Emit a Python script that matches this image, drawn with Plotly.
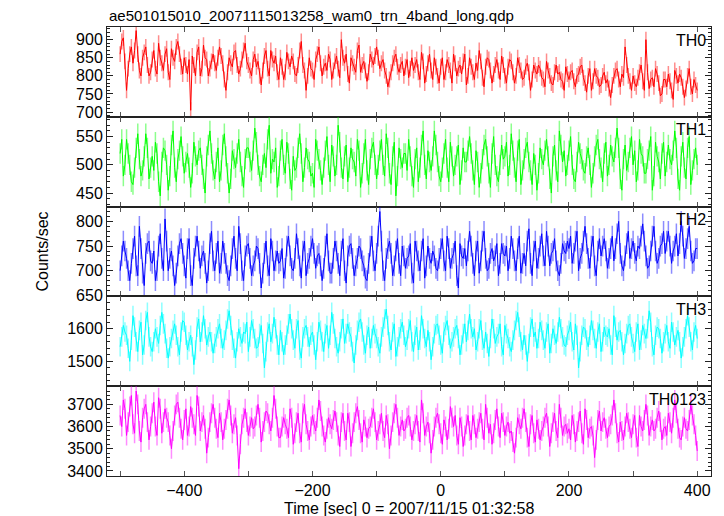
import plotly.graph_objects as go
from plotly.subplots import make_subplots

TITLE = "ae501015010_20071115013258_wam0_trn_4band_long.qdp"
X_LABEL = "Time [sec] 0 = 2007/11/15 01:32:58"
Y_LABEL = "Counts/sec"
T_START, T_BIN = -500, 2.5

TH0 = [860, 895, 905, 840, 760, 820, 860, 880, 835, 870, 925, 860, 815, 800, 850, 865, 880, 830, 800, 810,
       845, 870, 820, 805, 890, 850, 835, 815, 860, 875, 810, 790, 875, 850, 840, 880, 895, 860, 825, 805,
       850, 830, 805, 845, 705, 855, 830, 800, 865, 880, 800, 820, 885, 850, 845, 800, 820, 840, 860, 835,
       815, 850, 880, 855, 835, 790, 760, 810, 850, 835, 825, 865, 870, 830, 805, 820, 845, 870, 890, 840,
       830, 815, 800, 845, 860, 825, 840, 800, 775, 815, 855, 870, 820, 800, 870, 845, 835, 855, 810, 790,
       850, 825, 790, 810, 865, 840, 825, 855, 840, 805, 800, 830, 870, 895, 830, 815, 760, 800, 850, 820,
       815, 790, 845, 860, 880, 835, 800, 825, 835, 815, 860, 845, 790, 815, 840, 855, 820, 795, 900, 850,
       835, 860, 805, 780, 850, 835, 825, 810, 870, 885, 810, 830, 840, 815, 785, 810, 860, 845, 830, 855,
       880, 850, 820, 835, 845, 815, 800, 770, 790, 810, 835, 850, 860, 825, 810, 830, 840, 800, 825, 845,
       795, 820, 850, 815, 830, 845, 810, 790, 865, 840, 780, 805, 835, 860, 815, 790, 850, 825, 800, 780,
       825, 850, 790, 810, 845, 830, 815, 780, 860, 835, 800, 820, 830, 805, 840, 860, 775, 800, 850, 825,
       810, 790, 835, 815, 870, 840, 795, 770, 825, 850, 845, 815, 780, 805, 830, 845, 815, 790, 855, 830,
       800, 780, 825, 845, 840, 810, 780, 800, 850, 830, 815, 790, 795, 825, 835, 810, 760, 790, 830, 815,
       805, 830, 820, 795, 790, 770, 840, 815, 800, 780, 775, 810, 830, 805, 810, 790, 785, 760, 825, 805,
       790, 810, 815, 785, 770, 800, 805, 825, 830, 795, 780, 755, 800, 820, 760, 785, 820, 800, 795, 770,
       775, 800, 810, 780, 790, 765, 740, 775, 800, 815, 820, 790, 770, 805, 795, 880, 830, 800, 785, 760,
       800, 780, 770, 795, 810, 830, 785, 760, 900, 810, 765, 790, 795, 770, 820, 805, 780, 745, 750, 790,
       790, 770, 805, 785, 760, 735, 815, 800, 780, 805, 795, 770, 740, 765, 800, 820, 770, 750, 790, 775,
       760]

TH1 = [520, 545, 480, 500, 545, 520, 500, 470, 465, 495, 530, 555, 510, 480, 490, 515, 555, 530, 475, 495,
       515, 490, 540, 520, 470, 445, 505, 530, 525, 500, 455, 480, 535, 560, 495, 470, 510, 525, 550, 515,
       485, 505, 520, 495, 460, 485, 540, 515, 500, 525, 530, 500, 475, 450, 515, 535, 560, 520, 490, 475,
       505, 530, 470, 490, 535, 555, 515, 485, 450, 475, 525, 510, 495, 520, 545, 505, 480, 460, 510, 530,
       530, 505, 490, 525, 565, 540, 500, 480, 470, 500, 520, 495, 545, 570, 485, 510, 505, 530, 460, 480,
       525, 545, 500, 485, 540, 520, 475, 455, 515, 490, 495, 530, 555, 520, 470, 495, 530, 510, 505, 480,
       485, 460, 545, 525, 510, 490, 465, 495, 525, 550, 500, 470, 535, 515, 480, 500, 570, 540, 495, 475,
       515, 535, 470, 495, 530, 510, 505, 480, 545, 525, 460, 485, 520, 545, 490, 465, 510, 530, 540, 500,
       475, 500, 525, 545, 500, 480, 555, 530, 485, 465, 515, 540, 445, 480, 530, 510, 495, 520, 520, 490,
       545, 515, 480, 460, 510, 530, 470, 495, 535, 560, 500, 475, 525, 505, 490, 515, 560, 535, 505, 480,
       470, 495, 520, 545, 495, 470, 540, 515, 480, 500, 515, 535, 465, 490, 530, 505, 505, 525, 550, 520,
       490, 465, 525, 505, 460, 485, 510, 535, 545, 515, 485, 460, 520, 550, 500, 480, 470, 500, 535, 510,
       515, 540, 480, 500, 555, 525, 495, 470, 525, 545, 465, 490, 510, 530, 540, 505, 490, 465, 520, 500,
       455, 485, 530, 510, 500, 525, 545, 515, 475, 450, 515, 535, 490, 470, 560, 535, 505, 525, 480, 500,
       525, 550, 500, 475, 470, 505, 540, 520, 510, 490, 485, 515, 530, 500, 460, 485, 515, 535, 545, 510,
       495, 470, 520, 540, 480, 500, 535, 515, 505, 530, 565, 530, 475, 455, 510, 535, 490, 505, 530, 550,
       500, 525, 470, 490, 545, 520, 515, 485, 485, 510, 525, 550, 455, 480, 540, 515, 505, 475, 520, 540,
       480, 505, 535, 510, 500, 525, 560, 530, 475, 455, 515, 540, 495, 475, 530, 550, 465, 490, 510, 530,
       500]

TH2 = [700, 730, 760, 740, 725, 700, 680, 715, 745, 770, 710, 690, 790, 745, 695, 670, 735, 755, 760, 720,
       715, 740, 680, 700, 750, 775, 725, 700, 805, 760, 700, 725, 740, 710, 670, 695, 730, 755, 765, 735,
       710, 685, 745, 765, 690, 670, 725, 750, 770, 740, 705, 730, 740, 715, 675, 700, 755, 780, 720, 700,
       735, 760, 695, 715, 760, 735, 715, 690, 680, 710, 745, 770, 725, 700, 790, 755, 700, 680, 730, 750,
       755, 725, 690, 710, 720, 750, 745, 715, 665, 695, 735, 760, 710, 690, 765, 740, 700, 720, 740, 715,
       720, 745, 685, 705, 750, 770, 730, 705, 700, 725, 775, 745, 710, 685, 740, 760, 690, 715, 725, 750,
       765, 735, 705, 730, 735, 710, 680, 705, 750, 775, 720, 695, 695, 725, 760, 740, 715, 690, 740, 765,
       700, 675, 730, 750, 755, 725, 690, 710, 725, 750, 745, 720, 710, 685, 680, 715, 750, 770, 720, 700,
       735, 770, 820, 760, 700, 680, 725, 745, 760, 735, 690, 710, 740, 765, 715, 690, 750, 730, 705, 725,
       730, 755, 695, 675, 760, 740, 720, 700, 740, 765, 685, 710, 750, 725, 715, 740, 730, 705, 700, 725,
       745, 765, 720, 700, 770, 745, 705, 725, 735, 760, 690, 665, 755, 730, 725, 745, 710, 740, 780, 750,
       715, 690, 740, 760, 695, 720, 760, 780, 725, 700, 705, 735, 745, 720, 730, 755, 690, 715, 755, 735,
       730, 750, 700, 725, 770, 745, 720, 700, 745, 770, 695, 715, 735, 710, 760, 785, 715, 690, 740, 760,
       705, 725, 750, 775, 730, 710, 780, 750, 710, 735, 740, 765, 720, 700, 690, 715, 755, 740, 735, 760,
       745, 770, 715, 735, 760, 780, 700, 725, 735, 760, 790, 755, 725, 705, 750, 770, 710, 690, 740, 765,
       730, 750, 765, 740, 705, 725, 745, 770, 720, 745, 775, 800, 735, 710, 700, 730, 755, 780, 725, 745,
       760, 735, 720, 750, 745, 770, 795, 760, 730, 705, 710, 740, 770, 790, 740, 715, 725, 750, 755, 780,
       735, 760, 780, 750, 715, 740, 750, 775, 730, 755, 800, 770, 725, 745, 765, 790, 740, 715, 720, 745,
       745]

TH3 = [1545, 1575, 1610, 1590, 1580, 1540, 1500, 1565, 1640, 1605, 1560, 1530, 1595, 1620, 1520, 1550, 1625, 1650, 1575, 1545,
       1530, 1560, 1600, 1575, 1555, 1610, 1650, 1615, 1585, 1540, 1510, 1545, 1570, 1595, 1615, 1580, 1545, 1520, 1590, 1625,
       1620, 1580, 1535, 1560, 1580, 1545, 1490, 1535, 1605, 1630, 1560, 1590, 1640, 1600, 1550, 1575, 1590, 1560, 1525, 1555,
       1575, 1600, 1615, 1570, 1540, 1565, 1595, 1630, 1655, 1610, 1565, 1540, 1510, 1560, 1600, 1575, 1555, 1590, 1585, 1620,
       1530, 1575, 1625, 1600, 1570, 1540, 1545, 1585, 1610, 1555, 1480, 1530, 1590, 1615, 1560, 1585, 1635, 1600, 1550, 1520,
       1595, 1560, 1520, 1550, 1580, 1615, 1645, 1600, 1565, 1540, 1600, 1625, 1535, 1510, 1575, 1600, 1610, 1575, 1545, 1580,
       1590, 1550, 1505, 1560, 1620, 1595, 1560, 1530, 1585, 1610, 1540, 1580, 1650, 1615, 1570, 1545, 1525, 1560, 1600, 1630,
       1555, 1585, 1615, 1590, 1575, 1530, 1495, 1550, 1595, 1620, 1630, 1590, 1550, 1525, 1580, 1605, 1540, 1570, 1610, 1585,
       1570, 1545, 1525, 1575, 1605, 1630, 1660, 1610, 1560, 1535, 1590, 1615, 1515, 1545, 1575, 1600, 1620, 1580, 1545, 1565,
       1600, 1625, 1560, 1530, 1580, 1605, 1535, 1565, 1640, 1600, 1570, 1545, 1595, 1560, 1505, 1545, 1585, 1610, 1615, 1580,
       1550, 1525, 1590, 1610, 1625, 1580, 1540, 1560, 1575, 1600, 1610, 1570, 1520, 1550, 1585, 1615, 1560, 1595, 1645, 1600,
       1575, 1600, 1535, 1560, 1600, 1625, 1565, 1540, 1590, 1555, 1515, 1570, 1630, 1600, 1555, 1575, 1585, 1615, 1545, 1520,
       1610, 1585, 1570, 1545, 1530, 1565, 1595, 1625, 1650, 1605, 1560, 1535, 1580, 1550, 1500, 1555, 1605, 1630, 1575, 1590,
       1540, 1570, 1620, 1595, 1565, 1540, 1590, 1615, 1525, 1555, 1600, 1580, 1555, 1590, 1635, 1600, 1575, 1550, 1545, 1580,
       1595, 1620, 1560, 1535, 1615, 1580, 1480, 1530, 1580, 1605, 1600, 1565, 1545, 1580, 1625, 1595, 1570, 1540, 1590, 1615,
       1530, 1560, 1605, 1580, 1575, 1600, 1550, 1520, 1640, 1605, 1565, 1590, 1595, 1560, 1520, 1555, 1585, 1610, 1615, 1575,
       1555, 1530, 1590, 1615, 1535, 1565, 1610, 1585, 1570, 1600, 1655, 1620, 1545, 1520, 1580, 1605, 1600, 1570, 1525, 1560,
       1585, 1610, 1560, 1540, 1620, 1590, 1550, 1575, 1595, 1560, 1510, 1545, 1575, 1600, 1640, 1605, 1560, 1535, 1590, 1610,
       1570]

TH0123 = [3650, 3600, 3720, 3680, 3560, 3620, 3690, 3740, 3610, 3570, 3760, 3700, 3580, 3530, 3640, 3680, 3700, 3620, 3540, 3600,
          3660, 3710, 3600, 3560, 3730, 3680, 3570, 3620, 3680, 3640, 3620, 3560, 3500, 3580, 3650, 3700, 3710, 3640, 3590, 3540,
          3630, 3680, 3560, 3600, 3690, 3640, 3610, 3560, 3740, 3690, 3580, 3620, 3650, 3590, 3480, 3550, 3620, 3660, 3700, 3640,
          3590, 3550, 3660, 3620, 3540, 3590, 3630, 3680, 3720, 3650, 3570, 3610, 3640, 3560, 3410, 3520, 3610, 3640, 3680, 3620,
          3560, 3600, 3640, 3590, 3600, 3650, 3700, 3640, 3530, 3580, 3620, 3670, 3660, 3610, 3580, 3640, 3740, 3680, 3600, 3550,
          3550, 3600, 3640, 3610, 3590, 3550, 3680, 3640, 3520, 3570, 3620, 3660, 3570, 3530, 3660, 3700, 3610, 3580, 3540, 3600,
          3650, 3610, 3580, 3640, 3720, 3670, 3600, 3560, 3530, 3590, 3640, 3610, 3590, 3630, 3670, 3620, 3560, 3510, 3620, 3660,
          3580, 3540, 3660, 3620, 3510, 3570, 3620, 3660, 3690, 3630, 3570, 3530, 3630, 3600, 3550, 3590, 3600, 3640, 3680, 3620,
          3540, 3580, 3610, 3660, 3580, 3550, 3650, 3610, 3500, 3560, 3620, 3660, 3700, 3640, 3560, 3600, 3630, 3580, 3590, 3640,
          3650, 3600, 3540, 3580, 3610, 3650, 3580, 3530, 3720, 3660, 3560, 3600, 3620, 3570, 3480, 3540, 3600, 3640, 3660, 3610,
          3570, 3520, 3630, 3600, 3540, 3590, 3690, 3640, 3600, 3650, 3560, 3520, 3640, 3600, 3510, 3560, 3610, 3650, 3580, 3540,
          3650, 3610, 3550, 3590, 3620, 3660, 3590, 3540, 3700, 3640, 3570, 3610, 3520, 3570, 3630, 3680, 3600, 3550, 3660, 3620,
          3560, 3600, 3620, 3570, 3580, 3530, 3480, 3550, 3640, 3610, 3590, 3640, 3680, 3620, 3550, 3510, 3610, 3650, 3570, 3530,
          3630, 3590, 3540, 3580, 3600, 3640, 3660, 3600, 3510, 3570, 3620, 3660, 3580, 3550, 3700, 3640, 3560, 3600, 3610, 3570,
          3590, 3540, 3650, 3610, 3530, 3580, 3620, 3670, 3570, 3520, 3680, 3630, 3550, 3590, 3600, 3560, 3460, 3540, 3630, 3670,
          3580, 3620, 3640, 3590, 3550, 3600, 3610, 3650, 3720, 3660, 3570, 3530, 3620, 3580, 3540, 3600, 3660, 3620, 3590, 3550,
          3610, 3650, 3550, 3510, 3650, 3600, 3580, 3630, 3700, 3650, 3560, 3600, 3630, 3580, 3590, 3640, 3670, 3620, 3540, 3590,
          3600, 3560, 3660, 3620, 3570, 3640, 3720, 3660, 3590, 3550, 3540, 3600, 3640, 3590, 3580, 3630, 3700, 3650, 3610, 3560,
          3490]

BANDS = ["TH0", "TH1", "TH2", "TH3", "TH0123"]
SERIES = [TH0, TH1, TH2, TH3, TH0123]
ERRORS = [22, 18, 21, 30, 45]
COLORS = ["#ff0000", "#00ff00", "#0000ff", "#00ffff", "#ff00ff"]
ERR_COLORS = ["rgba(255,0,0,0.45)", "rgba(0,255,0,0.45)", "rgba(0,0,255,0.45)",
              "rgba(0,255,255,0.45)", "rgba(255,0,255,0.45)"]
Y_RANGES = [[687, 935], [426, 585], [648, 830], [1424, 1699], [3377, 3782]]
Y_DTICK = [50, 50, 50, 100, 100]
Y_MINOR = [10, 10, 10, 20, 20]
X_RANGE = [-520.5, 421.5]

times = [T_START + i * T_BIN for i in range(len(TH0))]

fig = make_subplots(rows=5, cols=1, shared_xaxes=True, vertical_spacing=0)
FONT = "Liberation Sans, Arial, Helvetica, sans-serif"

for i, (name, vals) in enumerate(zip(BANDS, SERIES)):
    r = i + 1
    fig.add_trace(go.Scatter(
        x=times, y=vals, mode="lines", name=name,
        line=dict(color=COLORS[i], width=1),
        error_y=dict(type="constant", value=ERRORS[i], color=ERR_COLORS[i],
                     thickness=1.5, width=0),
        showlegend=False), row=r, col=1)
    fig.update_yaxes(range=Y_RANGES[i], dtick=Y_DTICK[i], ticks="inside",
                     ticklen=6, tickcolor="#222", showline=True, linecolor="#222",
                     linewidth=1, mirror="allticks", showgrid=False, zeroline=False,
                     minor=dict(ticks="inside", ticklen=3, dtick=Y_MINOR[i],
                                tickcolor="#222", showgrid=False),
                     tickfont=dict(size=16, color="black", family=FONT),
                     row=r, col=1)
    fig.update_xaxes(range=X_RANGE, tick0=0, dtick=200, ticks="inside", ticklen=5,
                     tickcolor="#555", showline=True, linecolor="#222", linewidth=1,
                     mirror="allticks", showgrid=False, zeroline=False,
                     minor=dict(ticks="inside", ticklen=5, tick0=0, dtick=100,
                                tickcolor="#555", showgrid=False),
                     tickfont=dict(size=16, color="black", family=FONT),
                     row=r, col=1)
    yax = "y domain" if r == 1 else f"y{r} domain"
    fig.add_annotation(text=name, xref="paper", yref=yax, x=0.995, y=0.97,
                       xanchor="right", yanchor="top", showarrow=False,
                       font=dict(size=16, color="black", family=FONT))

fig.add_annotation(text=TITLE, xref="paper", yref="paper", x=0, y=1,
                   xanchor="left", yanchor="bottom", yshift=1, showarrow=False,
                   font=dict(size=15, color="black", family=FONT))
fig.add_annotation(text=X_LABEL, xref="paper", yref="paper", x=0.5, y=0,
                   xanchor="center", yanchor="top", yshift=-22, showarrow=False,
                   font=dict(size=16, color="black", family=FONT))
fig.add_annotation(text=Y_LABEL, xref="paper", yref="paper", x=0, y=0.5,
                   xanchor="center", yanchor="middle", xshift=-65, textangle=-90,
                   showarrow=False, font=dict(size=16, color="black", family=FONT))

fig.update_layout(width=724, height=516, margin=dict(l=99, r=21, t=19, b=48),
                  plot_bgcolor="white", paper_bgcolor="white")
fig.write_html("out.html")
